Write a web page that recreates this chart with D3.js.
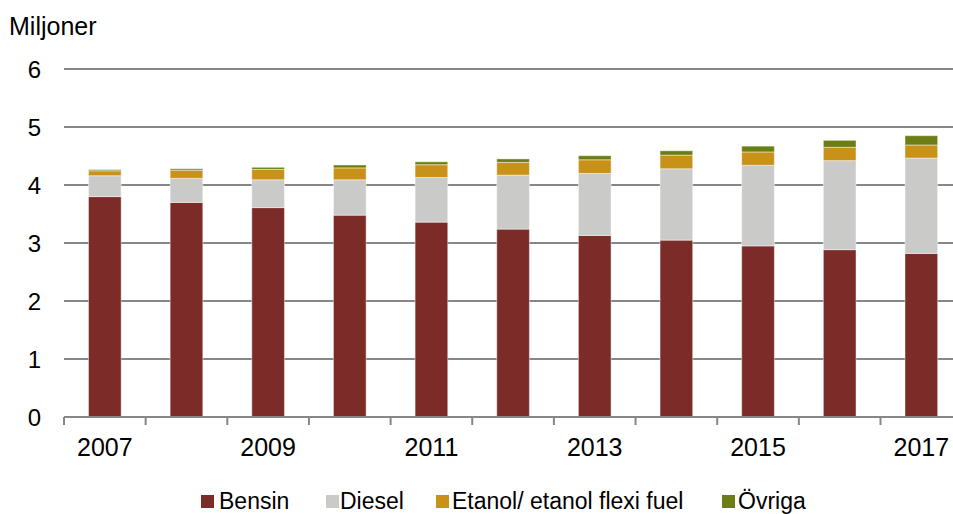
<!DOCTYPE html>
<html>
<head>
<meta charset="utf-8">
<script src="https://cdn.jsdelivr.net/npm/d3@7"></script>
<style>
  html, body { margin: 0; padding: 0; background: #fff; }
  svg { display: block; font-family: "Liberation Sans", Arial, sans-serif; }
</style>
</head>
<body>
<svg id="chart" width="953" height="514"></svg>
<script>
// Personbilar i trafik per drivmedel (miljoner)
const years = ["2007","2008","2009","2010","2011","2012","2013","2014","2015","2016","2017"];
const bensin = [3.80, 3.70, 3.61, 3.48, 3.36, 3.24, 3.13, 3.05, 2.95, 2.885, 2.82];
const diesel = [0.36, 0.415, 0.48, 0.61, 0.77, 0.93, 1.07, 1.23, 1.39, 1.535, 1.645];
const etanol = [0.085, 0.14, 0.18, 0.205, 0.22, 0.22, 0.235, 0.235, 0.23, 0.23, 0.225];
const ovriga = [0.02, 0.025, 0.035, 0.05, 0.05, 0.06, 0.07, 0.075, 0.10, 0.12, 0.16];
const yTicks = [0, 1, 2, 3, 4, 5, 6];
const xLabelYears = ["2007","2009","2011","2013","2015","2017"];

const seriesNames = ["Bensin", "Diesel", "Etanol/ etanol flexi fuel", "Övriga"];
const seriesKeys = ["bensin", "diesel", "etanol", "ovriga"];
const colors = ["#7B2B28", "#CACAC9", "#C89219", "#6A7E15"];

const rows = years.map((y, i) => ({
  year: y, bensin: bensin[i], diesel: diesel[i], etanol: etanol[i], ovriga: ovriga[i]
}));

const svg = d3.select("#chart");
const plotLeft = 64, plotBottom = 417, plotTop = 69;
const step = 81.65;

const x = d3.scaleBand().domain(years).range([plotLeft, plotLeft + step * years.length]).paddingInner(0.6).paddingOuter(0.3);
const y = d3.scaleLinear().domain([0, 6]).range([plotBottom, plotTop]);

// Gridlines
svg.append("g")
  .selectAll("line")
  .data(yTicks.filter(t => t > 0))
  .join("line")
  .attr("x1", plotLeft).attr("x2", 953)
  .attr("y1", d => y(d)).attr("y2", d => y(d))
  .attr("stroke", "#878787").attr("stroke-width", 2);

// Y tick labels
svg.append("g")
  .selectAll("text")
  .data(yTicks)
  .join("text")
  .attr("x", 41)
  .attr("y", d => y(d))
  .attr("dy", "0.36em")
  .attr("text-anchor", "end")
  .attr("font-size", 24)
  .attr("fill", "#000")
  .text(d => d);

svg.append("text")
  .attr("x", 9).attr("y", 35)
  .attr("font-size", 25)
  .attr("fill", "#000")
  .text("Miljoner");

// Stacked bars
const stack = d3.stack().keys(seriesKeys)(rows);
svg.append("g")
  .selectAll("g")
  .data(stack)
  .join("g")
  .attr("fill", (d, i) => colors[i])
  .selectAll("rect")
  .data(d => d)
  .join("rect")
  .attr("x", d => x(d.data.year))
  .attr("width", x.bandwidth())
  .attr("y", d => y(d[1]))
  .attr("height", d => y(d[0]) - y(d[1]))
  .attr("stroke", "rgba(255,255,255,0.45)")
  .attr("stroke-width", 1);

// X axis with ticks between categories
const xAxis = d3.axisBottom(x)
  .tickSize(0)
  .tickFormat(d => xLabelYears.includes(d) ? d : "");
const gx = svg.append("g").attr("transform", `translate(0,${plotBottom})`).call(xAxis);
gx.select(".domain").remove();
gx.selectAll("text").attr("font-size", 25).attr("fill", "#000").attr("dy", "1.45em")
  .attr("font-family", "Liberation Sans, Arial, sans-serif");
gx.append("line").attr("x1", plotLeft).attr("x2", 953).attr("y1", 0).attr("y2", 0)
  .attr("stroke", "#878787").attr("stroke-width", 2);
gx.selectAll("line.sep")
  .data(d3.range(years.length + 1))
  .join("line")
  .attr("class", "sep")
  .attr("x1", i => plotLeft + i * step).attr("x2", i => plotLeft + i * step)
  .attr("y1", 0).attr("y2", 8)
  .attr("stroke", "#878787").attr("stroke-width", 2);

// Legend
const legendSwatchX = [201, 326, 436, 722];
const legendTextX = [219, 340, 452, 738];
const legend = svg.append("g");
seriesNames.forEach((name, i) => {
  legend.append("rect")
    .attr("x", legendSwatchX[i]).attr("y", 495)
    .attr("width", 13).attr("height", 13)
    .attr("fill", colors[i]);
  legend.append("text")
    .attr("x", legendTextX[i]).attr("y", 509)
    .attr("font-size", 23)
    .attr("fill", "#000")
    .text(name);
});
</script>
</body>
</html>
